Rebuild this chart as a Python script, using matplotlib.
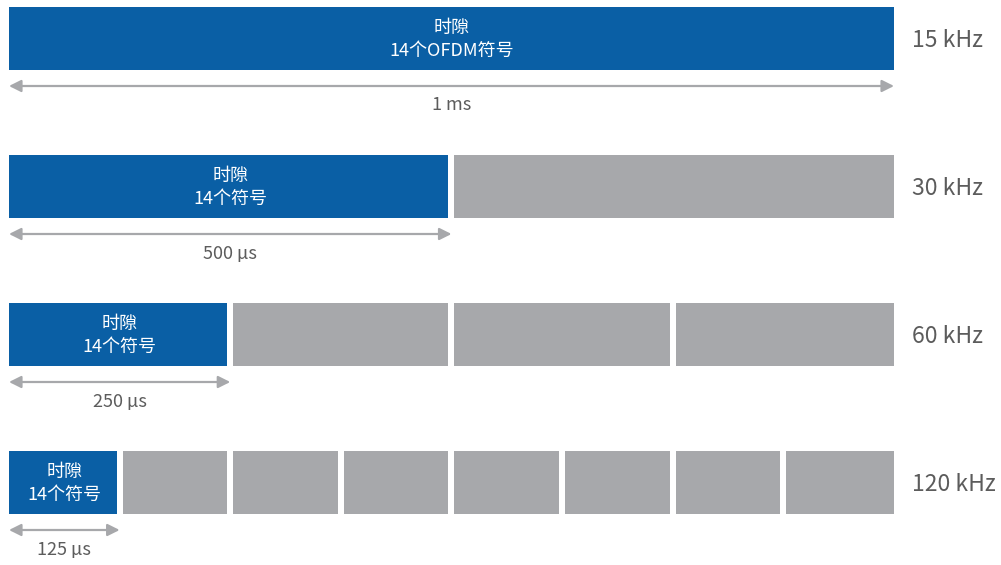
import matplotlib
matplotlib.use("Agg")
import matplotlib.pyplot as plt

plt.rcParams['font.family'] = ['Noto Sans CJK SC', 'DejaVu Sans']

# --- data ---
spacings = ["15 kHz", "30 kHz", "60 kHz", "120 kHz"]
slots_per_ms = [1, 2, 4, 8]
slot_durations = ["1 ms", "500 µs", "250 µs", "125 µs"]
slot_labels = ["时隙\n14个OFDM符号", "时隙\n14个符号", "时隙\n14个符号", "时隙\n14个符号"]
frame_us = 1000

blue = "#0a5fa5"
grey = "#a7a8ab"
text_grey = "#5c5c5c"

fig = plt.figure(figsize=(10.01, 5.65), dpi=100)
ax = fig.add_axes([0, 0, 1, 1])

# pixel-ish layout: 0 us -> x=9px, 1000 us -> x=894px
px = (894 - 9) / frame_us
ax.set_xlim(-9 / px, (1001 - 9) / px)
row_px = 148
ax.set_ylim((565 - 38.5) / row_px, -38.5 / row_px)
ax.axis("off")

gap = 6 / px
bar_h = 63 / row_px

for r, n in enumerate(slots_per_ms):
    d = frame_us / n
    for i in range(n):
        left = i * d + (gap / 2 if i > 0 else 0)
        right = (i + 1) * d - (gap / 2 if i < n - 1 else 0)
        ax.barh(r, right - left, left=left, height=bar_h,
                color=blue if i == 0 else grey, linewidth=0)
    # slot label inside first block
    ax.text(d / 2, r + 1 / row_px, slot_labels[r], ha="center", va="center",
            color="white", fontsize=13, fontweight="light", linespacing=1.35)
    # duration arrow
    ay = r + 47.5 / row_px
    ax.annotate("", xy=(0, ay), xytext=(d, ay),
                arrowprops=dict(arrowstyle="<|-|>", color=grey, lw=1.6,
                                mutation_scale=18, shrinkA=0, shrinkB=0))
    ax.text(d / 2, r + 67 / row_px, slot_durations[r], ha="center", va="center",
            color=text_grey, fontsize=13, fontweight="light")
    # subcarrier spacing label
    ax.text(frame_us + 18 / px, r + 2 / row_px, spacings[r], ha="left", va="center",
            color=text_grey, fontsize=16.5, fontweight="light")

fig.savefig("out.png", dpi=100)
